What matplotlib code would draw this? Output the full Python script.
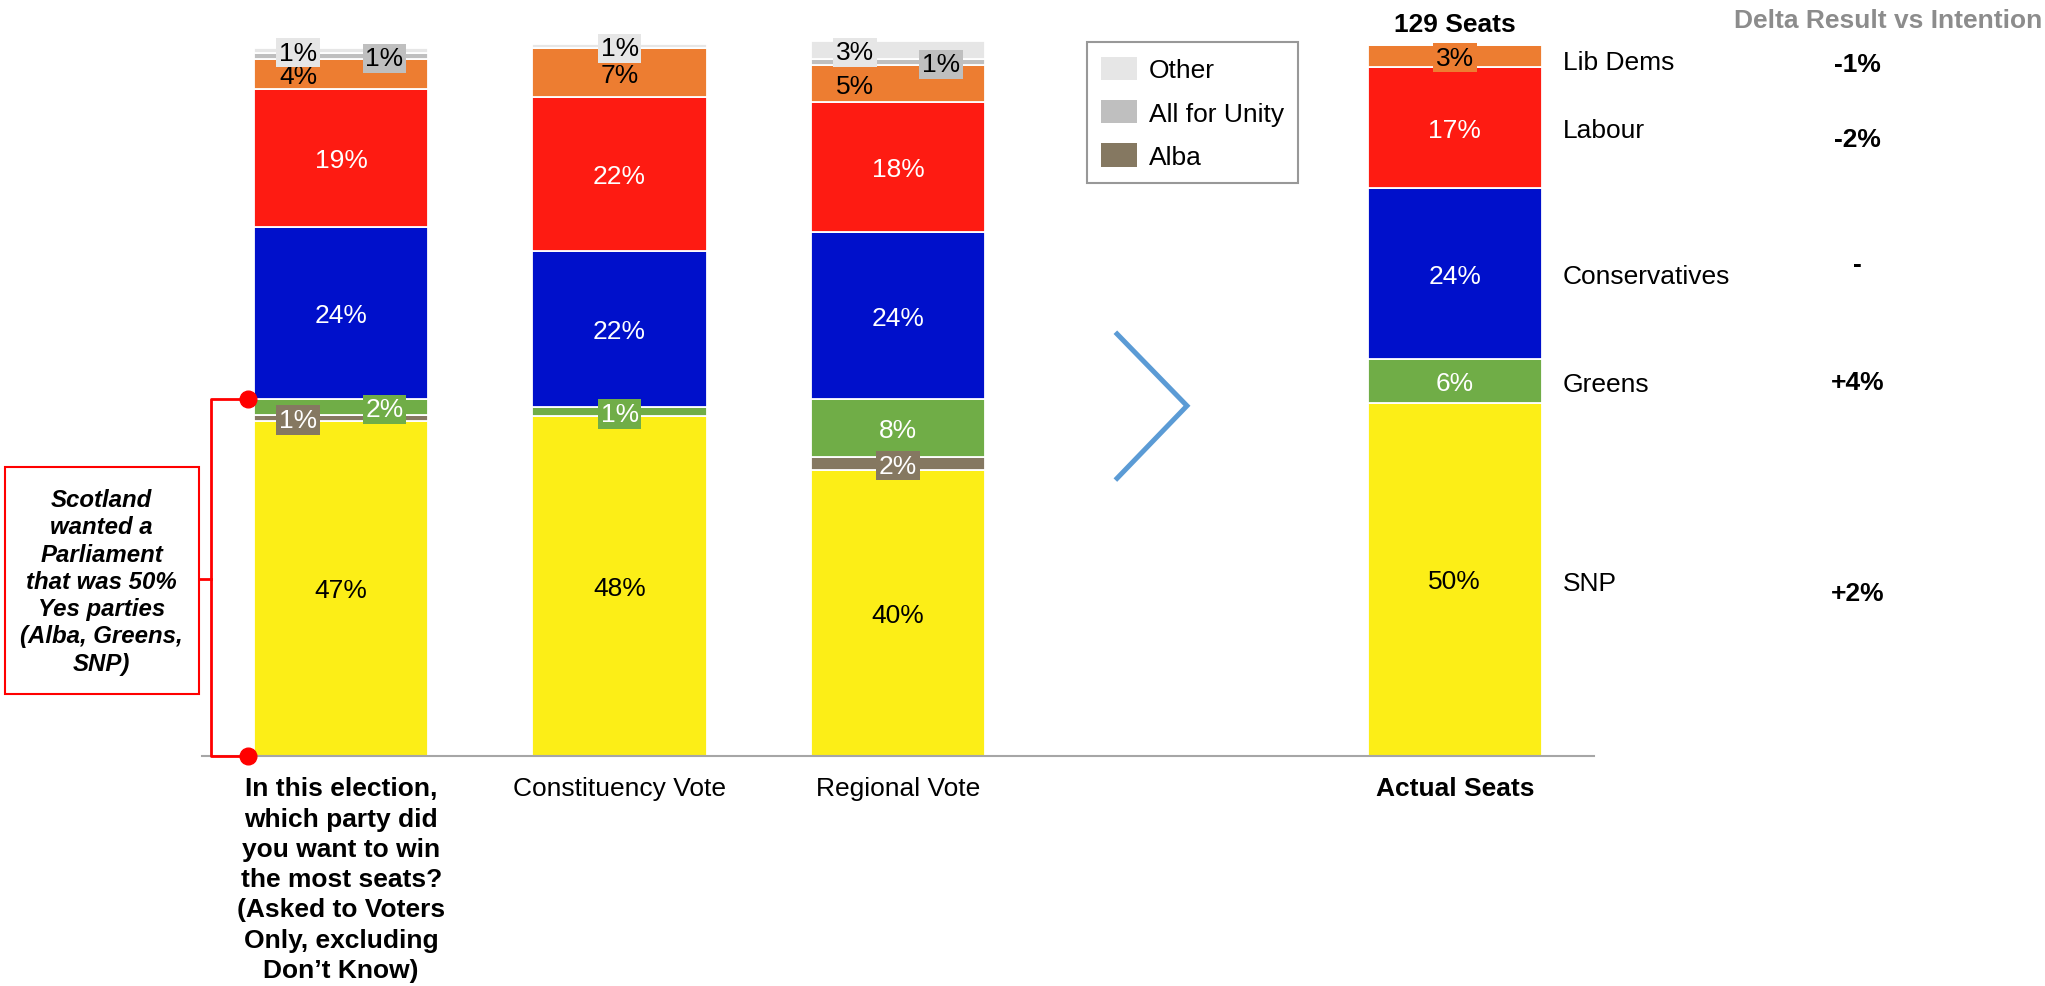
import numpy as np
import matplotlib
matplotlib.use("Agg")
import matplotlib.pyplot as plt
from matplotlib.patches import Patch, Rectangle

plt.rcParams['font.family'] = ['Liberation Sans', 'DejaVu Sans']

# data (% share, bottom -> top of each stack)
categories = [
    "In this election,\nwhich party did\nyou want to win\nthe most seats?\n(Asked to Voters\nOnly, excluding\nDon\u2019t Know)",
    "Constituency Vote",
    "Regional Vote",
    "Actual Seats",
]
parties = ["SNP", "Alba", "Greens", "Conservatives", "Labour", "Lib Dems", "All for Unity", "Other"]
snp = [47.1, 47.7, 40.1, 49.6]
alba = [0.8, 0.0, 1.9, 0.0]
greens = [2.2, 1.3, 8.1, 6.2]
con = [24.3, 22.0, 23.6, 24.0]
lab = [19.3, 21.7, 18.2, 17.1]
libdem = [4.3, 6.8, 5.2, 3.1]
afu = [0.8, 0.0, 0.85, 0.0]
other = [0.8, 0.6, 2.6, 0.0]

seat_parties = ["SNP", "Greens", "Conservatives", "Labour", "Lib Dems"]
seat_delta = ["+2%", "+4%", "-", "-2%", "-1%"]
total_seats = 129

# styles
colors = {
    "SNP": "#FCEE17", "Alba": "#857861", "Greens": "#70AD47",
    "Conservatives": "#0010CB", "Labour": "#FE1B12", "Lib Dems": "#ED7D31",
    "All for Unity": "#BFBFBF", "Other": "#E6E6E6",
}
txt_col = {
    "SNP": "black", "Alba": "white", "Greens": "white", "Conservatives": "white",
    "Labour": "white", "Lib Dems": "black", "All for Unity": "black", "Other": "black",
}
# sideways nudge for crowded labels (bar index, party) -> x offset
shift = {
    (0, "Other"): -0.155, (0, "All for Unity"): 0.155, (0, "Lib Dems"): -0.155,
    (0, "Alba"): -0.155, (0, "Greens"): 0.155,
    (2, "Other"): -0.155, (2, "All for Unity"): 0.155, (2, "Lib Dems"): -0.155,
}
name_nudge = {"SNP": -0.5, "Greens": -0.5, "Conservatives": -0.4, "Labour": -0.4, "Lib Dems": -0.9}
delta_nudge = {"SNP": -1.9, "Greens": -0.2, "Conservatives": 1.4, "Labour": -1.55, "Lib Dems": -1.2}

xpos = np.array([0, 1, 2, 4])
width = 0.626
fs = 19

fig = plt.figure(figsize=(20.45, 9.87), dpi=100)
ax = fig.add_axes([202 / 2045, 230.5 / 987, 1392 / 2045, 102 * 7.108 / 987])
ax.set_xlim(-0.5, 4.5)
ax.set_ylim(0, 102)

series = [snp, alba, greens, con, lab, libdem, afu, other]
bottom = np.zeros(len(xpos))
for name, vals in zip(parties, series):
    vals = np.array(vals, dtype=float)
    ax.bar(xpos, vals, width, bottom=bottom, color=colors[name],
           edgecolor="white", linewidth=1.3, clip_on=False)
    for i, v in enumerate(vals):
        if v <= 0:
            continue
        cx = xpos[i] + shift.get((i, name), 0)
        cy = bottom[i] + v / 2 - 0.3
        box = None
        if v < 3.5:
            box = dict(boxstyle="square,pad=0.1", fc=colors[name], ec="none")
        ax.text(cx, cy, f"{v:.0f}%", ha="center", va="center", fontsize=fs,
                color=txt_col[name], bbox=box, zorder=5)
    bottom += vals

# seat bar side labels
seat_vals = {"SNP": snp[3], "Greens": greens[3], "Conservatives": con[3],
             "Labour": lab[3], "Lib Dems": libdem[3]}
acc = 0
centers = {}
for name in ["SNP", "Greens", "Conservatives", "Labour", "Lib Dems"]:
    v = seat_vals[name]
    centers[name] = acc + v / 2
    acc += v
for name, d in zip(seat_parties, seat_delta):
    ax.text(4.387, centers[name] + name_nudge[name], name, ha="left", va="center", fontsize=fs)
    ax.text(5.447, centers[name] + delta_nudge[name], d, ha="center", va="center",
            fontsize=fs, fontweight="bold", clip_on=False)
ax.text(4, 102.9, f"{total_seats} Seats", ha="center", va="center",
        fontsize=fs, fontweight="bold")
fig.text(0.9985, 1 - 21 / 987, "Delta Result vs Intention", ha="right",
         va="center", fontsize=fs, fontweight="bold", color="#8C8C8C")

# axes styling
for s in ["top", "right", "left"]:
    ax.spines[s].set_visible(False)
ax.spines["bottom"].set_color("#A6A6A6")
ax.spines["bottom"].set_linewidth(1.5)
ax.set_yticks([])
ax.set_xticks(xpos)
ax.set_xticklabels(categories, fontsize=fs, linespacing=1.33)
ax.tick_params(axis="x", length=0, pad=15)
for k, t in enumerate(ax.get_xticklabels()):
    if k in (0, 3):
        t.set_fontweight("bold")

# chevron
ax.plot([2.787, 3.038, 2.787], [59.3, 49.2, 39.0], color="#5B9BD5", lw=3.6,
        solid_joinstyle="miter", clip_on=False)

# bracket + note on the left
yes_top = snp[0] + alba[0] + greens[0]
red = "#FF0000"
ax.plot([-0.335, -0.468, -0.468, -0.335], [yes_top, yes_top, 0, 0], color=red,
        lw=2, clip_on=False, zorder=6)
ax.plot([-0.335, -0.335], [yes_top, 0], "o", color=red, ms=12, clip_on=False, zorder=7)
ax.plot([-0.512, -0.468], [24.9, 24.9], color=red, lw=2, clip_on=False)
ax.add_patch(Rectangle((-1.209, 8.65), 0.697, 31.95, fill=False, ec=red, lw=1.5,
                       clip_on=False))
ax.text(-0.8605, 24.5,
        "Scotland\nwanted a\nParliament\nthat was 50%\nYes parties\n(Alba, Greens,\nSNP)",
        ha="center", va="center", fontsize=17.3, fontweight="bold", style="italic",
        linespacing=1.24)

# legend
handles = [Patch(fc=colors[n], ec="none") for n in ["Other", "All for Unity", "Alba"]]
leg = fig.legend(handles, ["Other", "All for Unity", "Alba"], loc="upper left",
                 bbox_to_anchor=(1086.5 / 2045, 1 - 43 / 987), borderaxespad=0,
                 fontsize=fs, fancybox=False, edgecolor="#7F7F7F",
                 handlelength=1.36, handleheight=1.0, handletextpad=0.45,
                 labelspacing=0.66, borderpad=0.55)
leg.get_frame().set_linewidth(1.5)

fig.savefig("out.png", dpi=100)
